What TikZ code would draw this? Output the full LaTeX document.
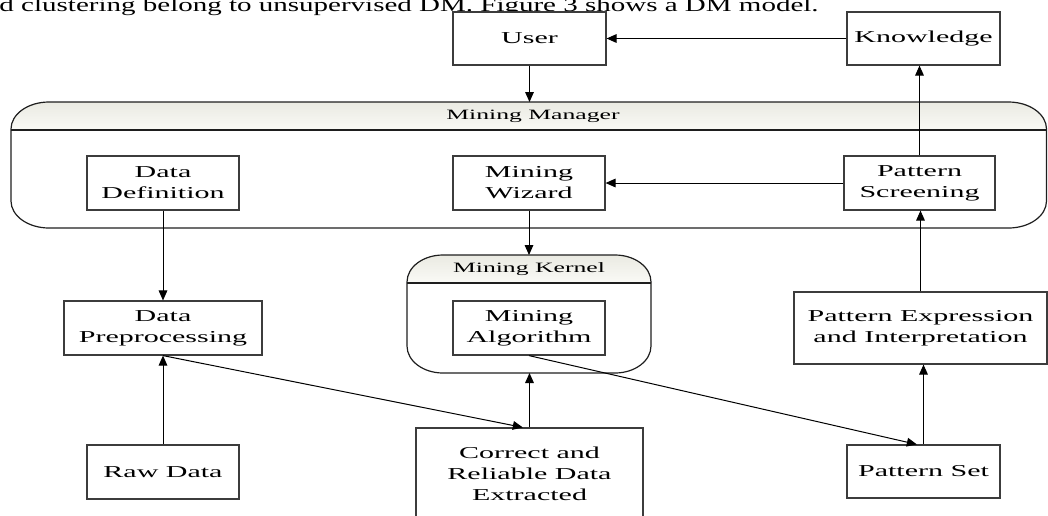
\documentclass[tikz,border=0pt]{standalone}
\usepackage{fontspec}
\setmainfont{Liberation Serif}[FakeStretch=1.8]
\newfontfamily\bodyfont{Liberation Serif}[FakeStretch=1.5]
\usetikzlibrary{arrows.meta}

\definecolor{hdtop}{RGB}{234,234,226}
\definecolor{hdbot}{RGB}{250,250,246}

\tikzset{every picture/.style={line width=0.75pt}}
\tikzset{
  box/.style={draw={rgb, 255:red, 60; green, 60; blue, 60 }, line width=0.9pt, fill=white, align=center, inner sep=0pt, font=\fontsize{12.5}{15.75}\selectfont},
  frame/.style={draw={rgb, 255:red, 30; green, 30; blue, 30 }, line width=0.9pt},
  lbl/.style={inner sep=0pt, font=\fontsize{10.7}{13}\selectfont},
  arr/.style={-{Triangle[length=7.5pt,width=6.5pt]}, line width=0.75pt},
}

\begin{document}
\begin{tikzpicture}[x=0.75pt,y=0.75pt,yscale=-1,xscale=1]
\useasboundingbox (0,0) rectangle (1048,515);

% Text Node
\node (intro) [anchor=base west, inner sep=0pt, font=\bodyfont\fontsize{14.5}{16}\selectfont] at (-1,11.5) {d clustering belong to unsupervised DM. Figure 3 shows a DM model.};

%Rounded Rect [mining manager]
\fill [top color=hdtop, bottom color=hdbot] (11,130) -- (11,129) arc[start angle=180, end angle=270, x radius=38, y radius=27] -- (1008.5,102) arc[start angle=-90, end angle=0, x radius=38, y radius=27] -- (1046.5,130) -- cycle;
\draw [frame] (49,102) -- (1008.5,102) arc[start angle=-90, end angle=0, x radius=38, y radius=27] -- (1046.5,201) arc[start angle=0, end angle=90, x radius=38, y radius=27] -- (49,228) arc[start angle=90, end angle=180, x radius=38, y radius=27] -- (11,129) arc[start angle=180, end angle=270, x radius=38, y radius=27] -- cycle;
\draw [frame] (11,130) -- (1046.5,130);
\coordinate (mgrN) at (529,102);

%Rounded Rect [mining kernel]
\fill [top color=hdtop, bottom color=hdbot] (407,283) -- (407,282) arc[start angle=180, end angle=270, x radius=36, y radius=27] -- (615,255) arc[start angle=-90, end angle=0, x radius=36, y radius=27] -- (651,283) -- cycle;
\draw [frame] (443,255) -- (615,255) arc[start angle=-90, end angle=0, x radius=36, y radius=27] -- (651,346) arc[start angle=0, end angle=90, x radius=36, y radius=27] -- (443,373) arc[start angle=90, end angle=180, x radius=36, y radius=27] -- (407,282) arc[start angle=180, end angle=270, x radius=36, y radius=27] -- cycle;
\draw [frame] (407,283) -- (651,283);
\coordinate (knlN) at (529,255);
\coordinate (knlS) at (529,373);

% Text Node
\node (mgrlbl) [lbl] at (533,116) {Mining Manager};
% Text Node
\node (knllbl) [lbl] at (529,269) {Mining Kernel};

% Text Node
\node (user) [box, minimum width=114.75pt, minimum height=39.75pt] at (529.5,38.5) {User};
% Text Node
\node (know) [box, minimum width=114.75pt, minimum height=39.75pt] at (923.5,38.5) {Knowledge};
% Text Node
\node (ddef) [box, minimum width=114pt, minimum height=40.5pt] at (163,183) {Data\\Definition};
% Text Node
\node (wiz) [box, minimum width=114pt, minimum height=40.5pt] at (529,183) {Mining\\Wizard};
% Text Node
\node (pscr) [box, minimum width=113.25pt, minimum height=40.5pt] at (919.5,183) {Pattern\\Screening};
% Text Node
\node (dpre) [box, minimum width=148.5pt, minimum height=40.5pt] at (163,328) {Data\\Preprocessing};
% Text Node
\node (alg) [box, minimum width=114pt, minimum height=40.5pt] at (529,328) {Mining\\Algorithm};
% Text Node
\node (pexp) [box, minimum width=189.75pt, minimum height=54pt] at (920.5,328) {Pattern Expression\\and Interpretation};
% Text Node
\node (raw) [box, minimum width=114pt, minimum height=40.5pt] at (163,472) {Raw Data};
% Text Node
\node (corr) [box, minimum width=170.25pt, minimum height=69pt] at (529.5,474) {Correct and\\Reliable Data\\Extracted};
% Text Node
\node (pset) [box, minimum width=114.75pt, minimum height=39.75pt] at (923.5,471.5) {Pattern Set};

%Straight Lines
\draw [arr] (know) -- (user);
\draw [arr] (user) -- (user |- mgrN);
\draw [arr] (wiz) -- (wiz |- knlN);
\draw [arr] (corr) -- (corr |- knlS);
\draw [arr] (pscr) -- (wiz);
\draw [arr] (pscr) -- (pscr |- know.south);
\draw [arr] (pexp) -- (pexp |- pscr.south);
\draw [arr] (pset) -- (pset |- pexp.south);
\draw [arr] (ddef) -- (dpre);
\draw [arr] (raw) -- (dpre);
\draw [arr] (dpre.south) -- ([xshift=-5pt]corr.north);
\draw [arr] (alg.south) -- ([xshift=-5pt]pset.north);

\end{tikzpicture}
\end{document}
